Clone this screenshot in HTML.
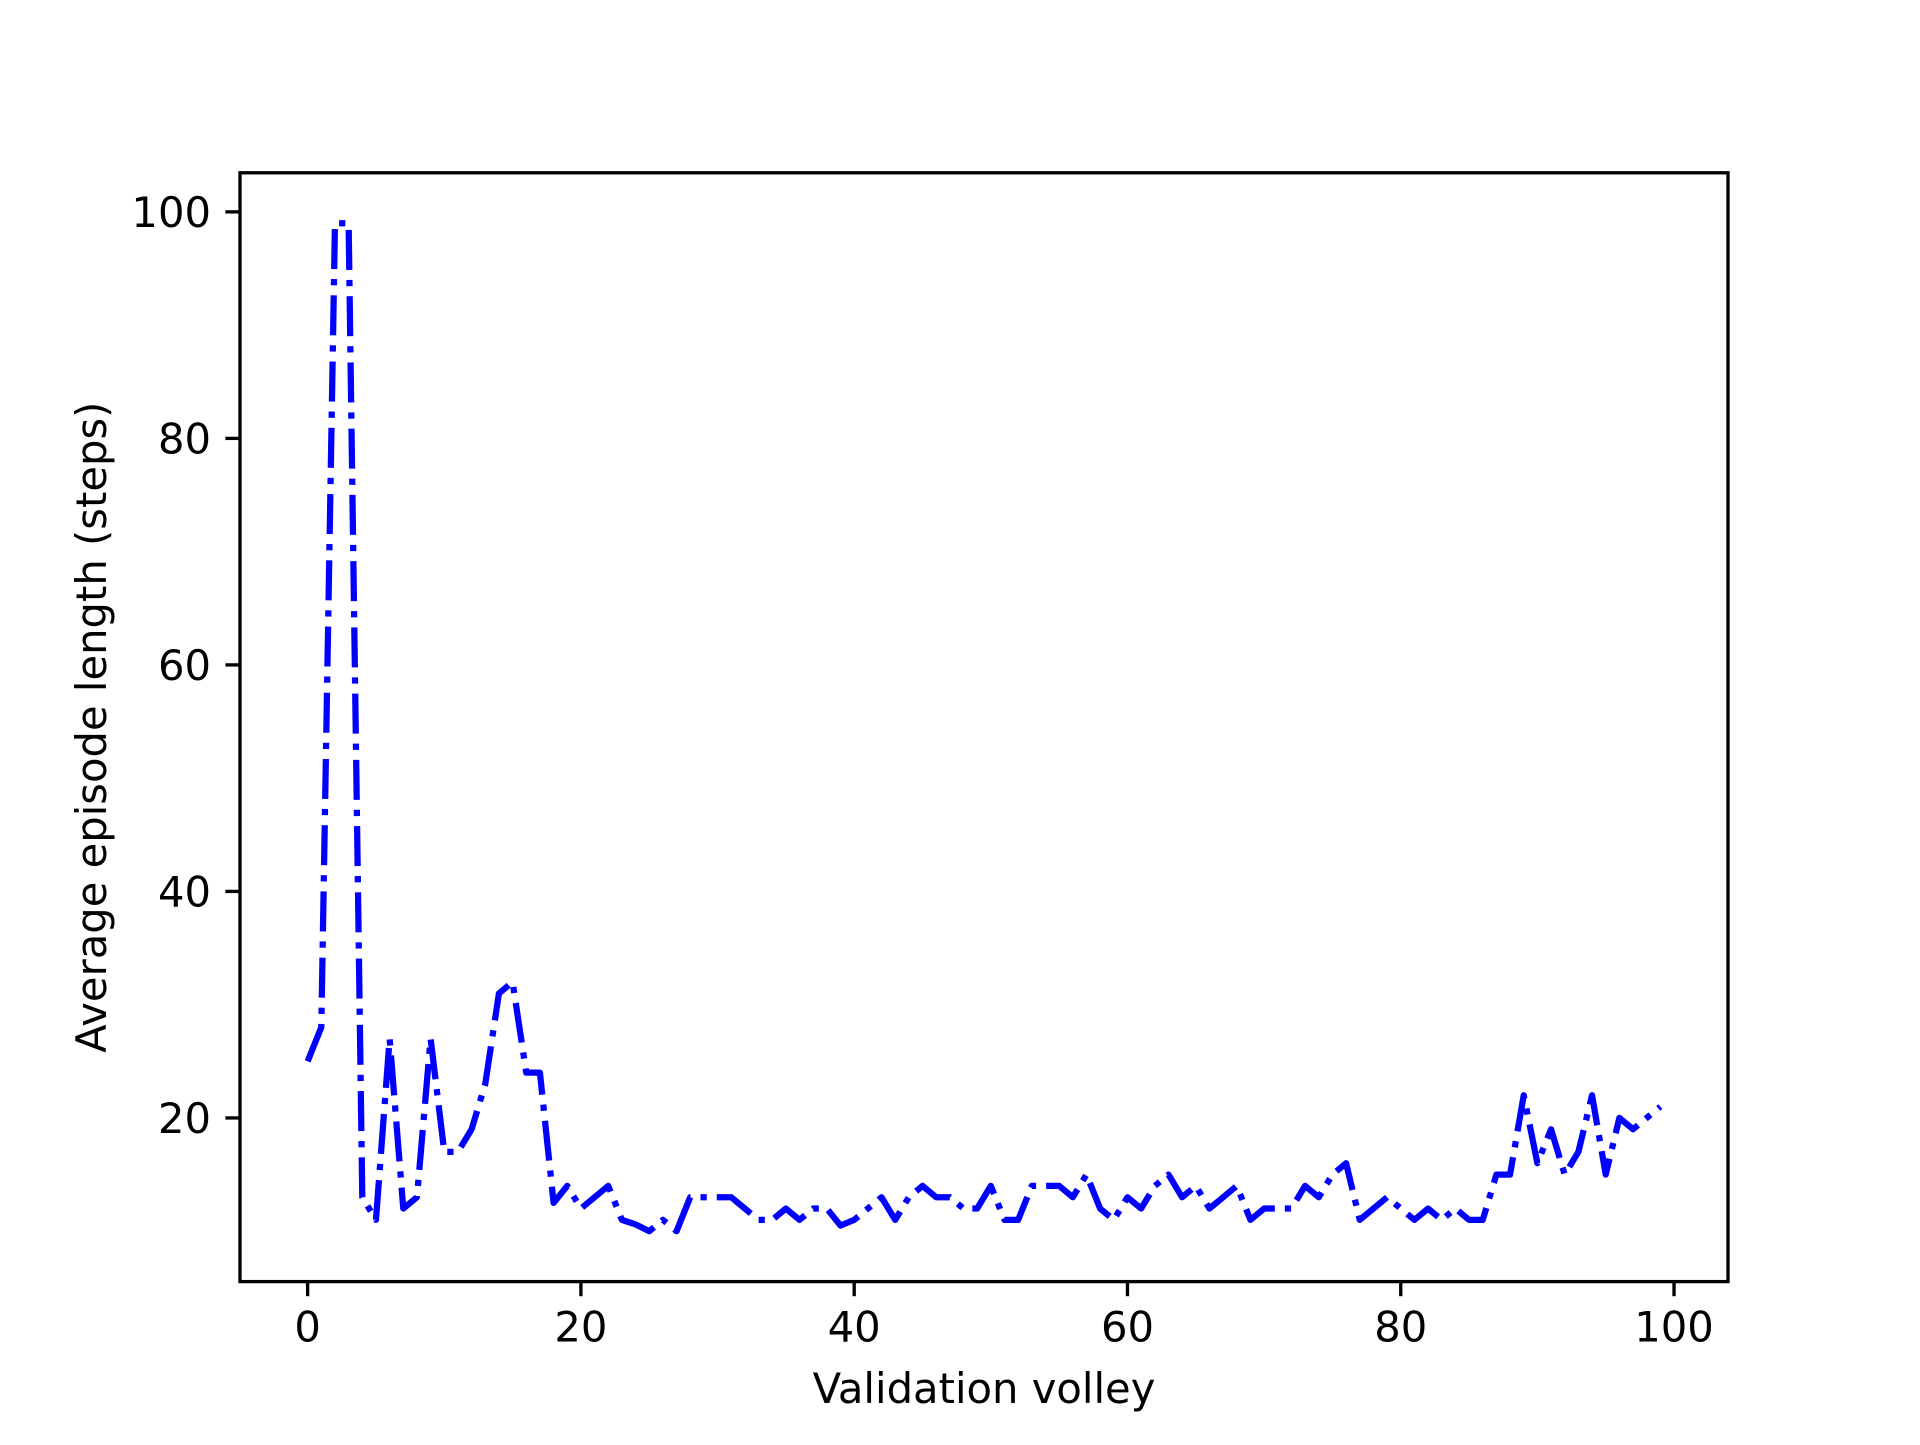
<!DOCTYPE html>
<html><head><meta charset="utf-8"><style>html,body{margin:0;padding:0;background:#fff}</style></head>
<body>
<svg id="chart" width="1920" height="1440" xmlns="http://www.w3.org/2000/svg" style="font-family:'DejaVu Sans','Liberation Sans',sans-serif">
<rect width="1920" height="1440" fill="#fff"/>
<g id="plot"></g>
</svg>
<script>
const episodeLength = [25,28,99,99,13,11,27,12,13,27,17,17,19,23,31,32,24,24,12.5,14,12,13,14,11,10.6,10,11,10,13,13,13,13,12,11,11,12,11,12,12,10.5,11,12,13,11,13,14,13,13,12,12,14,11,11,14,14,14,13,15,12,11,13,12,14,15,13,14,12,13,14,11,12,12,12,14,13,15,16,11,12,13,12,11,12,11,12,11,11,15,15,22,16,19,15,17,22,15,20,19,20,21];
const xTicks = [0,20,40,60,80,100];
const yTicks = [20,40,60,80,100];

const L=240,R=1728,T=172.8,B=1281.6;
const n=episodeLength.length;
const xmin=0-(n-1)*0.05,xmax=(n-1)*1.05;
const dmin=Math.min(...episodeLength),dmax=Math.max(...episodeLength);
const ymin=dmin-(dmax-dmin)*0.05,ymax=dmax+(dmax-dmin)*0.05;
const sx=v=>L+(v-xmin)/(xmax-xmin)*(R-L);
const sy=v=>B-(v-ymin)/(ymax-ymin)*(B-T);
const NS='http://www.w3.org/2000/svg';
const g=document.getElementById('plot');
function mk(tag,attrs){const e=document.createElementNS(NS,tag);for(const k in attrs)e.setAttribute(k,attrs[k]);g.appendChild(e);return e;}

const line=mk('polyline',{points:episodeLength.map((v,i)=>sx(i)+','+sy(v)).join(' '),fill:'none',stroke:'#0000ff','stroke-width':6.25,'stroke-dasharray':'40 10 6.25 10','stroke-linecap':'butt','stroke-linejoin':'round'});



xTicks.forEach(t=>{
  const tk=mk('line',{x1:sx(t),x2:sx(t),y1:B,y2:B+14.6,stroke:'#000','stroke-width':3.33});
  
  
  const tx=mk('text',{x:sx(t),y:B+29+31,'text-anchor':'middle','font-size':41.7,fill:'#000'});
  tx.textContent=t;
  
  
});
yTicks.forEach(t=>{
  const tk=mk('line',{x1:L-14.6,x2:L,y1:sy(t),y2:sy(t),stroke:'#000','stroke-width':3.33});
  
  
  const tx=mk('text',{x:L-29,y:sy(t)+15,'text-anchor':'end','font-size':41.7,fill:'#000'});
  tx.textContent=t;
  
  
});
const frame=mk('rect',{x:L,y:T,width:R-L,height:B-T,fill:'none',stroke:'#000','stroke-width':3.33});


const xl=mk('text',{x:(L+R)/2,y:1403,'text-anchor':'middle','font-size':41.7,fill:'#000'});
xl.textContent='Validation volley';


const yl=mk('text',{x:0,y:0,'text-anchor':'middle','font-size':41.7,fill:'#000',transform:'translate(106,'+((T+B)/2)+') rotate(-90)'});
yl.textContent='Average episode length (steps)';


</script>
</body></html>
